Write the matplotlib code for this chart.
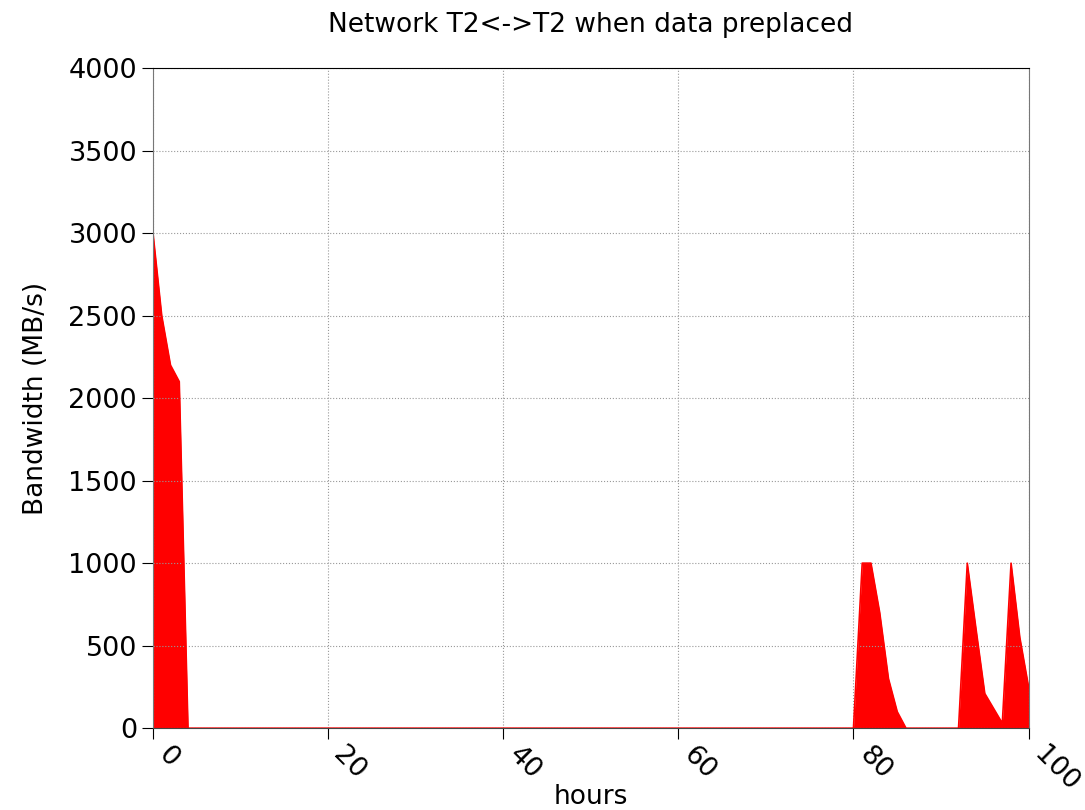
import matplotlib.pyplot as plt
import numpy as np

# hours and bandwidth (MB/s)
hours = np.arange(0, 101)
bw = np.zeros(101)
bw[0:5] = [3000, 2500, 2200, 2100, 0]
bw[80:87] = [0, 1000, 1000, 700, 300, 100, 0]
bw[92:101] = [0, 1000, 600, 210, 120, 30, 1000, 550, 250]

fig = plt.figure(figsize=(10.85, 8.1), dpi=100)
ax = fig.add_axes([0.141, 0.101, 0.807, 0.815])

ax.fill_between(hours, bw, 0, color='red', linewidth=0)
ax.plot(hours, bw, color='red', linewidth=1.2)

ax.set_xlim(0, 100)
ax.set_ylim(0, 4000)
ax.set_xticks([0, 20, 40, 60, 80, 100])
ax.set_yticks(range(0, 4001, 500))
ax.tick_params(direction='out', length=8, labelsize=19.5)
ax.tick_params(axis='x', labelrotation=-45, pad=2)
for lbl in ax.get_xticklabels():
    lbl.set_ha('left')
ax.grid(True, linestyle=':', color='#999999', linewidth=0.8)

for s in ['left', 'right']:
    ax.spines[s].set_color('#777777')
ax.spines['bottom'].set_color('#444444')

ax.set_ylabel('Bandwidth (MB/s)', fontsize=19, labelpad=14)
ax.xaxis.set_label_coords(0.5, -0.085)
ax.set_xlabel('hours', fontsize=19)
ax.set_title('Network T2<->T2 when data preplaced', fontsize=19, pad=26)

fig.savefig('out.png', dpi=100)
